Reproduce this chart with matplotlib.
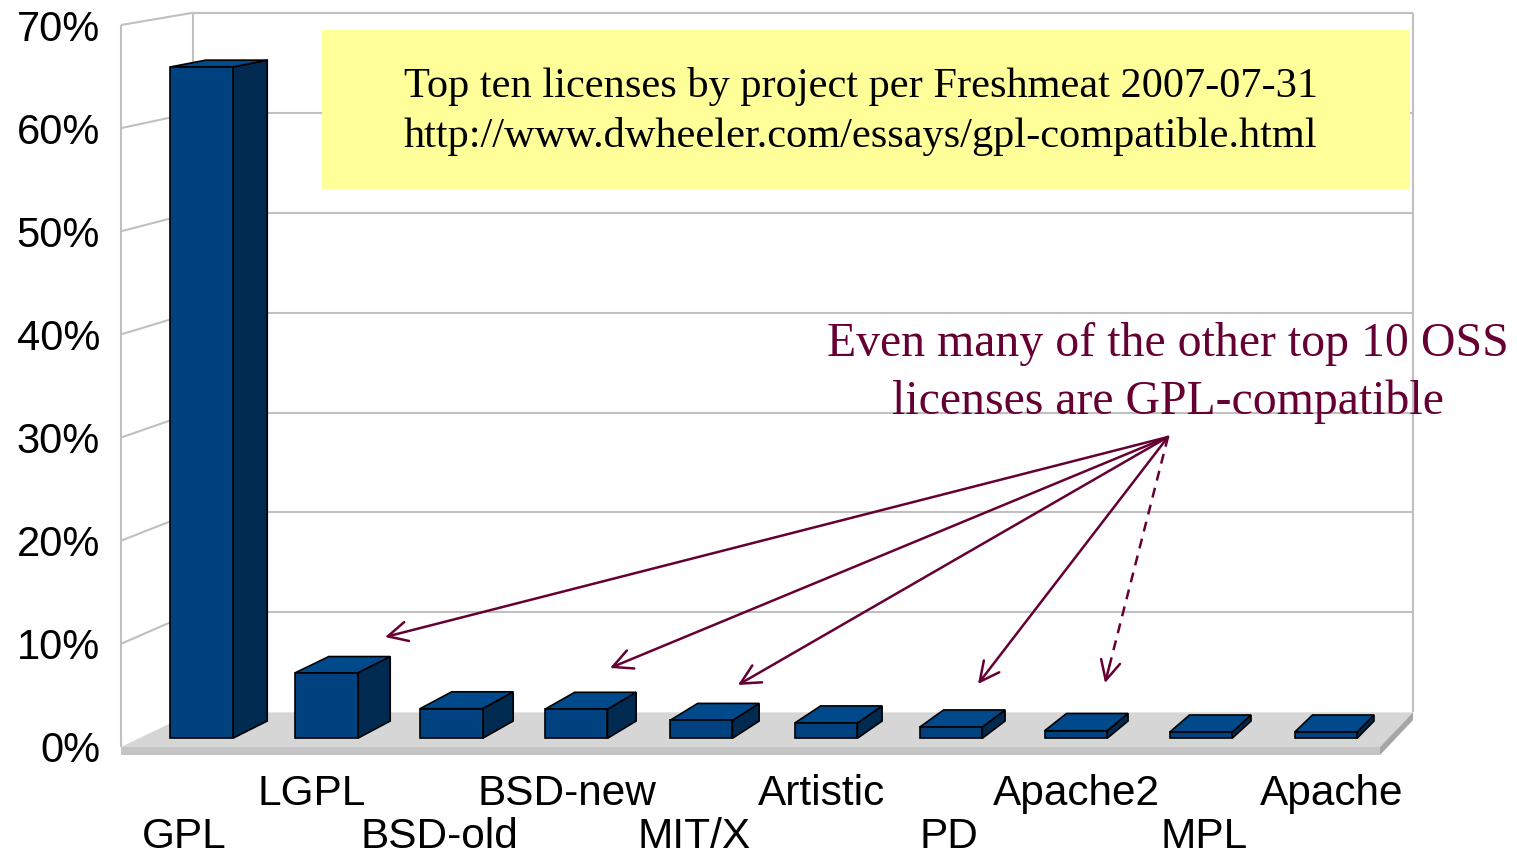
import matplotlib.pyplot as plt
from matplotlib.patches import Polygon, Rectangle

licenses = ['GPL', 'LGPL', 'BSD-old', 'BSD-new', 'MIT/X',
            'Artistic', 'PD', 'Apache2', 'MPL', 'Apache']
share = [65.6, 6.4, 2.9, 2.85, 1.75, 1.5, 1.1, 0.75, 0.6, 0.6]
y_ticks = [0, 10, 20, 30, 40, 50, 60, 70]
y_labels = ['0%', '10%', '20%', '30%', '40%', '50%', '60%', '70%']

box_lines = ['Top ten licenses by project per Freshmeat 2007-07-31',
             'http://www.dwheeler.com/essays/gpl-compatible.html']
note_lines = ['Even many of the other top 10 OSS',
              'licenses are GPL-compatible']

# perspective: vanishing point in data units, depth shrink of the back wall
VPX, VPY = 18.45, 108.3
DEPTH = 0.031
FLOOR_T = 0.78
LABEL_SPREAD = 1.012

FRONT = '#00427f'
SIDE = '#002a50'
TOP = '#004a8c'
GRID = '#c0c0c0'
NOTE = '#660033'


def proj(x, y, z):
    s = 1 - DEPTH * z
    return VPX + (x - VPX) * s, VPY + (y - VPY) * s


def face(ax, pts, fc, ec='none', lw=0, z=1):
    xy = [proj(*p) for p in pts]
    ax.add_patch(Polygon(xy, closed=True, facecolor=fc, edgecolor=ec,
                         linewidth=lw, clip_on=False, zorder=z))


def line3(ax, p, q, color=GRID, lw=1.5, z=2):
    a, b = proj(*p), proj(*q)
    ax.plot([a[0], b[0]], [a[1], b[1]], color=color, lw=lw,
            clip_on=False, zorder=z, solid_capstyle='butt')


fig = plt.figure(figsize=(15.17, 8.59), dpi=100)
ax = fig.add_axes([121 / 1517, 112 / 859, 1259 / 1517, 722 / 859])
n = len(licenses)
top = y_ticks[-1]
ax.set_xlim(0, n)
ax.set_ylim(0, top)
for s in ax.spines.values():
    s.set_visible(False)
ax.patch.set_visible(False)

# walls
face(ax, [(0, 0, 1), (n, 0, 1), (n, top, 1), (0, top, 1)], 'white', z=0.5)
face(ax, [(0, 0, 0), (0, 0, 1), (0, top, 1), (0, top, 0)], 'white', z=0.5)
for t in y_ticks[1:]:
    line3(ax, (0, t, 1), (n, t, 1))
    line3(ax, (0, t, 0), (0, t, 1))
line3(ax, (0, 0, 0), (0, top, 0))
line3(ax, (0, 0, 1), (0, top, 1))
line3(ax, (n, 0, 1), (n, top, 1))

# floor slab
face(ax, [(0, 0, 0), (n, 0, 0), (n, 0, 1), (0, 0, 1)], '#d6d6d6', z=3)
face(ax, [(0, 0, 0), (n, 0, 0), (n, -FLOOR_T, 0), (0, -FLOOR_T, 0)], '#c4c4c4', z=3)
face(ax, [(n, 0, 0), (n, 0, 1), (n, -FLOOR_T, 1), (n, -FLOOR_T, 0)], '#a6a6a6', z=3)

# bars
for i, v in enumerate(share):
    x0, x1 = i + 0.25, i + 0.75
    z0, z1 = 0.25, 0.75
    face(ax, [(x1, 0, z0), (x1, 0, z1), (x1, v, z1), (x1, v, z0)], SIDE, 'black', 1.2, 4)
    face(ax, [(x0, v, z0), (x1, v, z0), (x1, v, z1), (x0, v, z1)], TOP, 'black', 1.2, 4)
    face(ax, [(x0, 0, z0), (x1, 0, z0), (x1, v, z0), (x0, v, z0)], FRONT, 'black', 1.2, 4)

# axis labels
ax.set_yticks(y_ticks, y_labels, fontsize=30, fontfamily='Liberation Sans')
ax.tick_params(axis='y', length=0, pad=15)
ax.set_xticks([(i + 0.5) * LABEL_SPREAD for i in range(1, n, 2)], licenses[1::2],
              fontsize=30.5, fontfamily='Liberation Sans')
ax.set_xticks([(i + 0.5) * LABEL_SPREAD for i in range(0, n, 2)], licenses[0::2],
              minor=True, fontsize=30.5, fontfamily='Liberation Sans')
ax.tick_params(axis='x', which='major', length=0, pad=19.5)
ax.tick_params(axis='x', which='minor', length=0, pad=50.5)

# yellow note box
fig.patches.append(Rectangle((322 / 1517, 1 - 189 / 859), 1088 / 1517, 159 / 859,
                             transform=fig.transFigure, facecolor='#ffff99',
                             edgecolor='none', zorder=5))
for k, txt in enumerate(box_lines):
    fig.text(404 / 1517, 1 - (87 + 50 * k) / 859, txt, fontsize=30.5,
             fontfamily='Liberation Serif', va='center', ha='left', zorder=6)

for k, txt in enumerate(note_lines):
    ax.text(8.316, 39.1 - 5.6 * k, txt, fontsize=34.4, color=NOTE,
            fontfamily='Liberation Serif', ha='center', va='center', zorder=7)

# arrows to GPL-compatible licenses
src = (8.316, 30.06)
targets = [(2.097, 10.66), (3.884, 7.66), (4.90, 6.01), (6.807, 6.11)]
arrow = dict(arrowstyle='->, head_length=0.7, head_width=0.35', color=NOTE,
             lw=1.8, mutation_scale=20, shrinkA=0, shrinkB=0)
for t in targets:
    ax.annotate('', xy=t, xytext=src, arrowprops=arrow, annotation_clip=False,
                zorder=8)
dashed_tip = (7.816, 6.2)
near = (src[0] + (dashed_tip[0] - src[0]) * 0.93, src[1] + (dashed_tip[1] - src[1]) * 0.93)
ax.plot([src[0], near[0]], [src[1], near[1]], color=NOTE, lw=1.8,
        ls=(0, (4, 3)), clip_on=False, zorder=8)
ax.annotate('', xy=dashed_tip, xytext=near, arrowprops=arrow,
            annotation_clip=False, zorder=8)

fig.savefig('out.png', dpi=100)
